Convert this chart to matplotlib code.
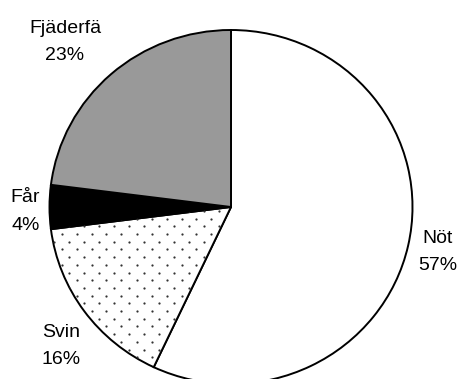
import numpy as np
import matplotlib
matplotlib.use("Agg")
import matplotlib.pyplot as plt

plt.rcParams['font.family'] = ['Liberation Sans', 'DejaVu Sans']

# Share of each livestock category (percent)
categories = ["Nöt", "Svin", "Får", "Fjäderfä"]
shares = [57, 16, 4, 23]
fill_colors = ["white", "white", "black", "#999999"]

W, H = 459, 379
fig = plt.figure(figsize=(W / 100, H / 100), dpi=100)

# Pie geometry in pixels (slightly wider than tall)
cx, cy = 231, 207
rx, ry = 181.5, 177
ax = fig.add_axes([(cx - rx) / W, (H - cy - ry) / H, 2 * rx / W, 2 * ry / H])

wedges, _ = ax.pie(shares, colors=fill_colors, startangle=90, counterclock=False,
                   radius=1, center=(0, 0),
                   wedgeprops=dict(edgecolor='black', linewidth=1.4))
ax.set_xlim(-1, 1)
ax.set_ylim(-1, 1)
ax.set_aspect('auto')
ax.axis('off')
for w in wedges:
    w.set_clip_on(False)

# Dotted fill for "Svin": staggered lattice of small dots clipped to the wedge
svin = wedges[categories.index("Svin")]
row_h = 7.7
col_w = 15.0
pts = []
for r in range(-60, 60):
    y_px = 241.7 + r * row_h
    x0 = 9.0 if r % 2 == 0 else 1.5
    for x_px in x0 + np.arange(-2, 40) * col_w:
        pts.append(((x_px - cx) / rx, (cy - y_px) / ry))
pts = np.array(pts)
sc = ax.scatter(pts[:, 0], pts[:, 1], s=2.6, c='#333333', marker='o',
                linewidths=0, zorder=3)
sc.set_clip_path(svin)

# Category labels: name on first line, share on second (pixel baselines)
label_pos = {
    "Nöt": (438, 243),
    "Svin": (61, 337),
    "Får": (25.5, 202),
    "Fjäderfä": (65, 33),
}
line_gap = 27.5
for name, val in zip(categories, shares):
    x, y = label_pos[name]
    fig.text(x / W, 1 - y / H, name, fontsize=14, ha='center', va='baseline')
    fig.text(x / W, 1 - (y + line_gap) / H, f"{val}%", fontsize=14,
             ha='center', va='baseline')

fig.savefig("out.png", dpi=100)
